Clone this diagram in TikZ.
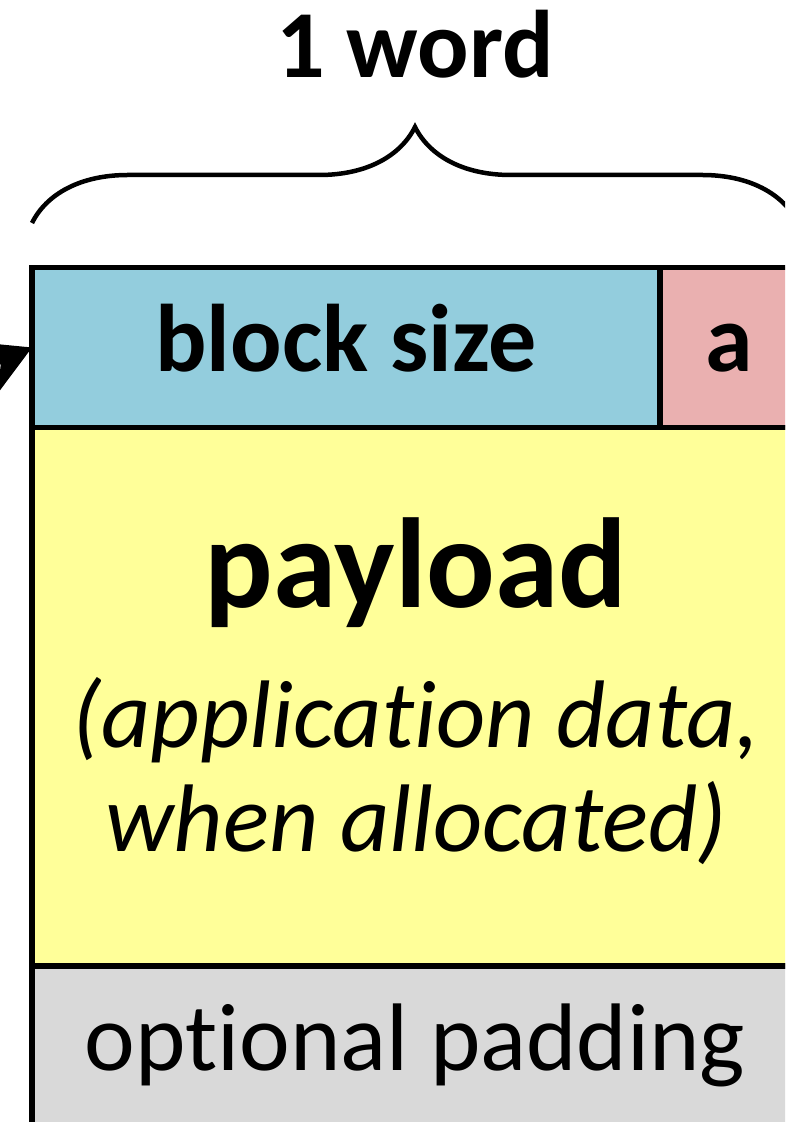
\documentclass[tikz,border=0pt]{standalone}
\usepackage{fontspec}
\setmainfont{Carlito}[Ligatures=NoCommon]
\usepackage{tikz}
\usetikzlibrary{arrows.meta,calc,positioning,decorations.pathreplacing}
\definecolor{sizeblue}{HTML}{93CDDD}
\definecolor{allocpink}{HTML}{EAB0B0}
\definecolor{loadyellow}{HTML}{FFFF99}
\definecolor{padgray}{HTML}{D9D9D9}
\tikzset{
cell/.style={draw=black,line width=5.5pt,inner sep=0pt,outer sep=0pt,anchor=north west},
txt/.style={font=\fontsize{96}{104}\selectfont},
arc/.style={-{Stealth[length=50pt,width=56pt]},line width=5.5pt}
}

\begin{document}
\begin{tikzpicture}[x=1pt,y=1pt]
	\useasboundingbox (0,0) rectangle (785,1122);
	\clip (0,0) rectangle (785,1122);
	% word width
	\node[txt,font=\fontsize{96}{104}\selectfont\bfseries,anchor=base] (word) at (415,1044) {1 word};
	\draw[decorate,decoration={brace,amplitude=96pt},line width=4.5pt] (32,899) -- (798,899);

	% header
	\node[cell,fill=sizeblue,minimum width=628pt,minimum height=160pt,txt,font=\fontsize{96}{104}\selectfont\bfseries,text height=65pt,text depth=16pt] (size) at (32,854.5) {block size};
	\node[cell,fill=allocpink,minimum width=138pt,minimum height=160pt,txt,font=\fontsize{96}{104}\selectfont\bfseries,text height=65pt,text depth=16pt] (alloc) at (660,854.5) {a};

	% payload
	\node[cell,fill=loadyellow,minimum width=766pt,minimum height=538.5pt] (load) at (32,694.5) {};
	\node[font=\fontsize{128}{136}\selectfont\bfseries,anchor=base] (pl) at (416,514) {payload};
	\node[txt,font=\fontsize{96}{104}\selectfont\itshape,anchor=base] (app) at (416,374) {(application data,};
	\node[txt,font=\fontsize{96}{104}\selectfont\itshape,anchor=base] (when) at (416,270) {when allocated)};

	% padding
	\node[cell,fill=padgray,minimum width=766pt,minimum height=161pt,txt,text height=65pt,text depth=16pt] (pad) at (32,156) {optional padding};

	% pointer
	\coordinate (ptr) at (-200,672);
	\draw[arc] (ptr) -- (size.west);
\end{tikzpicture}
\end{document}
